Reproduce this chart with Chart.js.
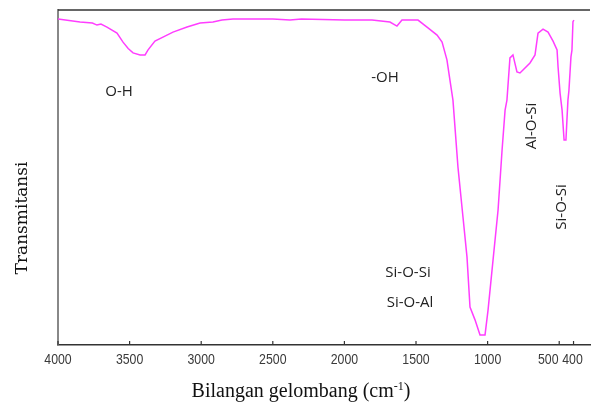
<!DOCTYPE html>
<html>
<head>
<meta charset="utf-8">
<script src="https://cdn.jsdelivr.net/npm/chart.js@4.4.1/dist/chart.umd.min.js"></script>
<style>
html,body{margin:0;padding:0;background:#fff;}
#wrap{width:592px;height:403px;}
</style>
</head>
<body>
<div id="wrap"><canvas id="grafIR"></canvas></div>
<script>
// bilangan gelombang (cm-1) dan transmitansi (%)
const bilangan = [4000,3846,3760,3728,3700,3658,3588,3546,3510,3476,3427,3392,3371,3323,3267,3197,3099,3008,2918,2855,2778,2500,2380,2300,2000,1807,1682,1633,1598,1486,1423,1353,1318,1284,1263,1242,1207,1172,1144,1123,1088,1053,1018,997,962,927,899,878,865,844,823,795,774,753,704,669,648,613,578,543,515,508,494,480,466,453,446,439,432,418,411,404,397];
const transmitansi = [97.3,96.4,96.1,95.5,95.8,94.9,93.1,90.4,88.5,87.2,86.6,86.6,88.1,90.7,91.9,93.4,94.9,96.1,96.4,97.0,97.3,97.3,97.0,97.3,97.0,97.0,96.4,95.2,97.0,97.0,94.9,92.5,90.4,85.1,79.1,73.1,53.1,38.2,26.3,11.3,7.5,3.0,3.0,10.4,25.4,40.3,58.2,70.1,73.1,85.7,86.6,81.5,81.2,82.1,84.2,86.6,93.1,94.3,93.4,90.7,88.1,83.0,75.2,70.1,61.2,61.2,67.2,73.1,76,86,88,96.5,97];
const tickX = [4000,3500,3000,2500,2000,1500,1000,500,400];

const label = [
  {t:"O-H", x:119, y:92},
  {t:"-OH", x:385, y:78},
  {t:"Si-O-Si", x:408, y:273},
  {t:"Si-O-Al", x:410, y:303},
  {t:"Al-O-Si", x:532, y:126, rot:true},
  {t:"Si-O-Si", x:562, y:207, rot:true}
];

const dekor = {
  id:"dekor",
  afterDraw(chart){
    const c = chart.ctx, a = chart.chartArea, sx = chart.scales.x;
    c.save();
    // garis atas
    c.strokeStyle="#333"; c.lineWidth=1.5;
    c.beginPath(); c.moveTo(a.left,a.top); c.lineTo(a.right,a.top); c.stroke();
    // tick ke dalam + label angka
    c.lineWidth=1.2;
    c.fillStyle="#3a3a3a"; c.font="14px 'Liberation Sans'"; c.textAlign="center"; c.textBaseline="middle";
    tickX.forEach(v=>{
      const px = sx.getPixelForValue(v);
      c.beginPath(); c.moveTo(px,a.bottom); c.lineTo(px,a.bottom-4); c.stroke();
      const geser = v===500 ? -11 : (v===400 ? -1 : 0);
      c.save(); c.translate(px+geser,360); c.scale(0.88,1);
      c.fillText(String(v),0,0); c.restore();
    });
    // label gugus
    c.fillStyle="#222"; c.font="15px 'Open Sans'";
    label.forEach(l=>{
      c.save(); c.translate(l.x,l.y);
      if(l.rot) c.rotate(-Math.PI/2);
      c.fillText(l.t,0,0); c.restore();
    });
    // judul sumbu
    c.fillStyle="#111"; c.textAlign="left"; c.textBaseline="alphabetic";
    c.font="20px 'Liberation Serif'";
    const t1="Bilangan gelombang (cm", t2=")";
    const w1=c.measureText(t1).width, w2=c.measureText(t2).width;
    c.font="12px 'Liberation Serif'"; const ws=c.measureText("-1").width;
    let x0 = 301 - (w1+ws+w2)/2;
    c.font="20px 'Liberation Serif'"; c.fillText(t1,x0,397);
    c.font="12px 'Liberation Serif'"; c.fillText("-1",x0+w1,390);
    c.font="20px 'Liberation Serif'"; c.fillText(t2,x0+w1+ws,397);
    c.save(); c.translate(27,218); c.rotate(-Math.PI/2); c.textAlign="center";
    c.font="17px 'DejaVu Serif'";
    c.fillText("Transmitansi",0,0); c.restore();
    c.restore();
  }
};

new Chart(grafIR,{
  type:"line",
  data:{
    datasets:[{
      data:bilangan.map((b,i)=>({x:b,y:transmitansi[i]})),
      borderColor:"#ff3dff",
      borderWidth:1.5,
      pointRadius:0,
      tension:0,
      fill:false
    }]
  },
  options:{
    responsive:true,
    maintainAspectRatio:false,
    animation:false,
    layout:{padding:{left:58,right:2,top:10,bottom:0}},
    plugins:{legend:{display:false},tooltip:{enabled:false}},
    scales:{
      x:{
        type:"linear",
        reverse:true,
        min:285,
        max:4000,
        afterFit(s){ s.height = 58; },
        grid:{display:false},
        border:{display:true,color:"#333",width:1.5},
        ticks:{display:false}
      },
      y:{
        min:0,
        max:100,
        afterFit(s){ s.width = 0; },
        grid:{display:false},
        border:{display:true,color:"#888",width:2},
        ticks:{display:false}
      }
    }
  },
  plugins:[dekor]
});
</script>
</body>
</html>
